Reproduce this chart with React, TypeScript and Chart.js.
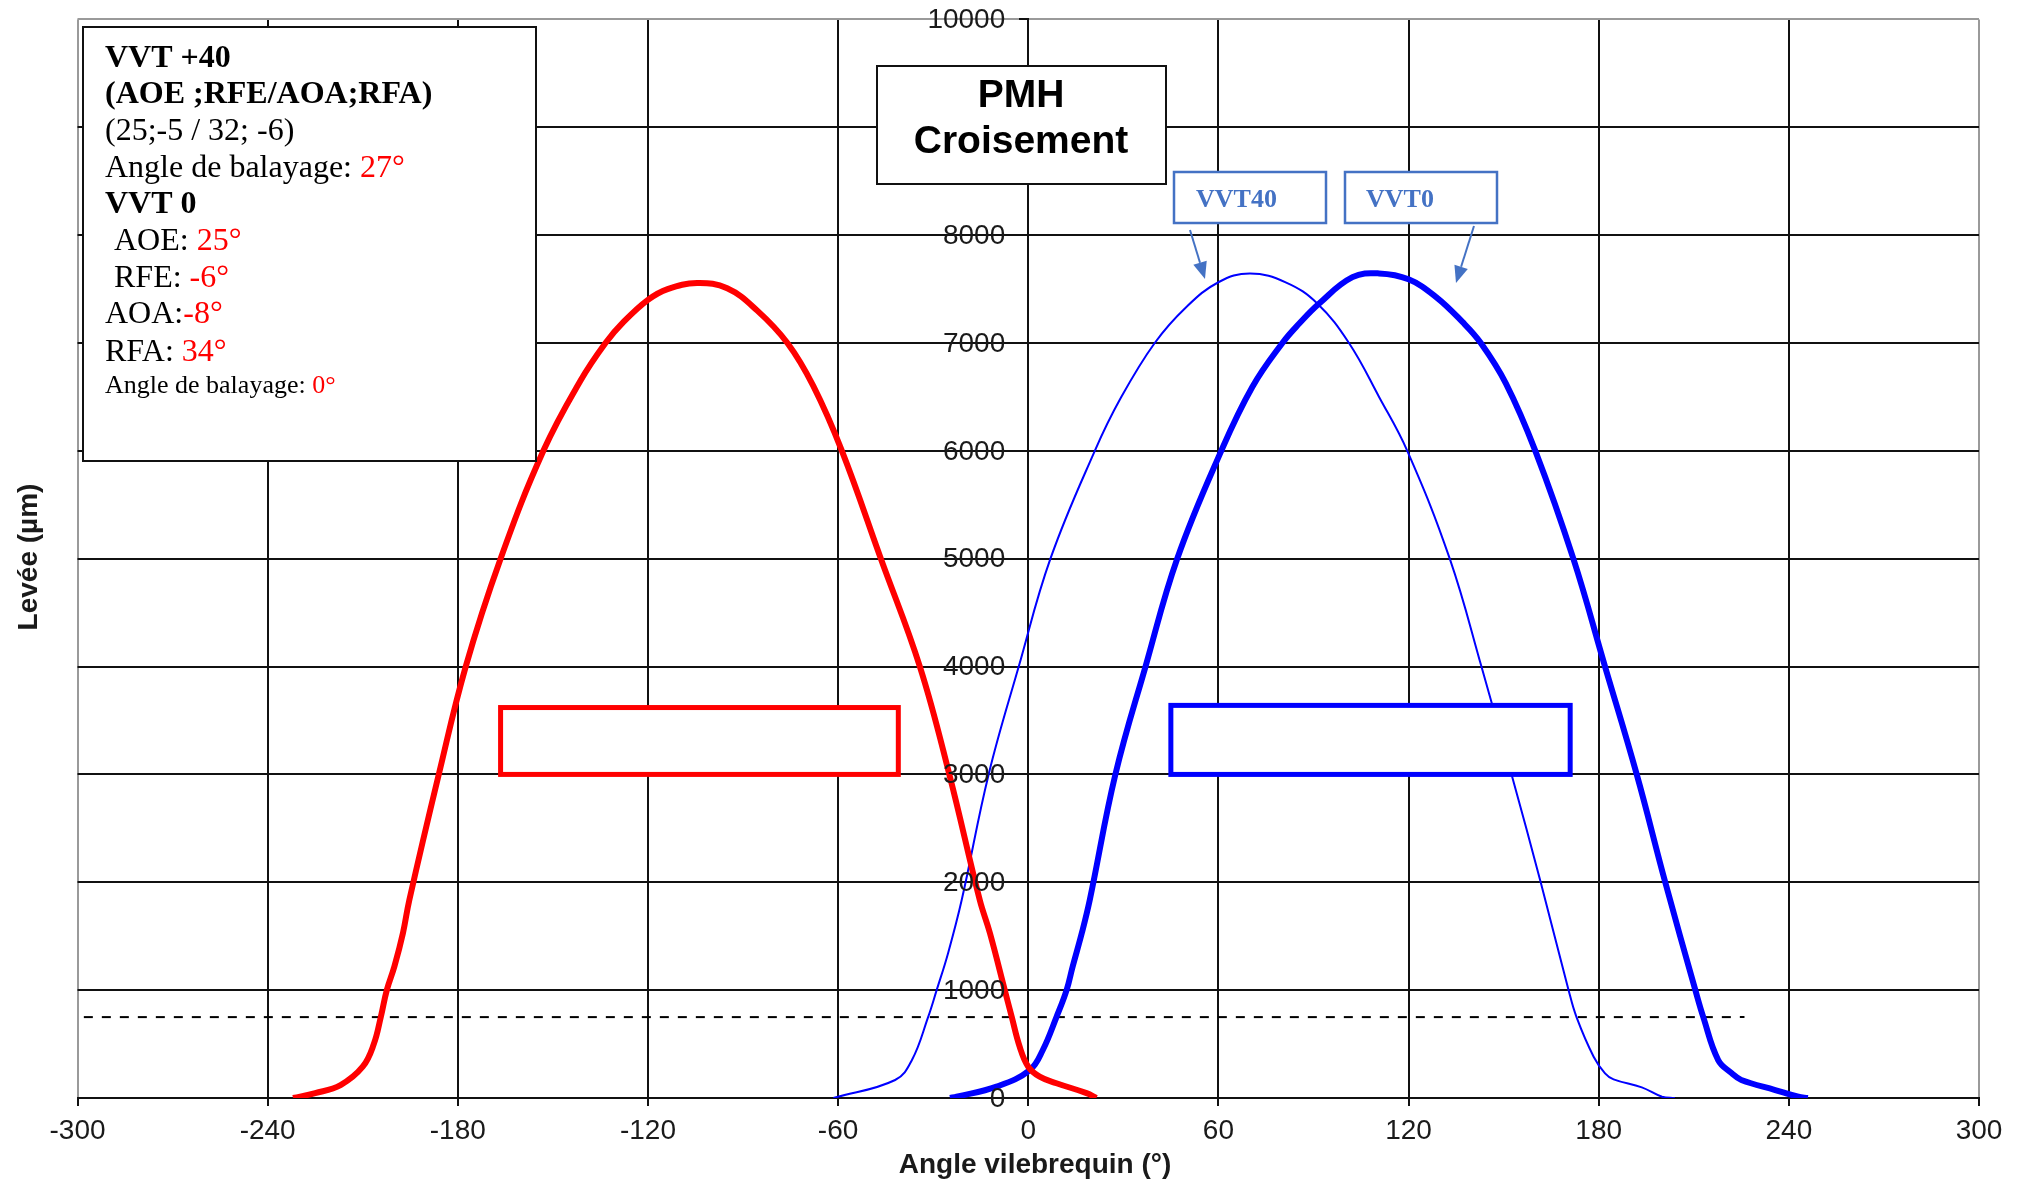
import { useEffect, useRef } from "react";
import { Chart, registerables } from "chart.js";

Chart.register(...registerables);

// ---------- data ----------
const xTickValues = [-300, -240, -180, -120, -60, 0, 60, 120, 180, 240, 300];
const yTickValues = [0, 1000, 2000, 3000, 4000, 5000, 6000, 7000, 8000, 9000, 10000];

// Exhaust (red)
const exhaustAngles = [-232, -225, -217, -210, -206.5, -204.3, -202.4, -200, -197.3, -195.3, -186, -177.5, -166.5, -153, -141.3, -133.4, -127.7, -120, -113.8, -104.5, -95, -85.5, -76, -67.8, -58.8, -46.5, -34.2, -24.9, -15.3, -12.1, -7.4, -5.2, -2.7, 0, 3.6, 8.9, 18.4, 21.5];
const exhaustLift = [0, 45, 120, 290, 500, 750, 1000, 1220, 1530, 1835, 3000, 4000, 5000, 6000, 6650, 7000, 7195, 7400, 7500, 7555, 7507, 7300, 7000, 6600, 6000, 5000, 4000, 3000, 1835, 1530, 1000, 750, 475, 290, 198, 137, 45, 0];

// Intake VVT 0 (thick blue)
const intakeVvt0Angles = [-24.7, -22.6, -10, 0.5, 4.6, 8.9, 12.1, 14, 16.9, 19.4, 27.5, 37, 47, 60.9, 70.7, 80.2, 85.5, 91.8, 102.3, 110.7, 120, 128.7, 137, 142.8, 150.7, 160, 172, 182, 192, 201, 210.5, 213, 217.7, 222, 225, 235.7, 243, 246];
const intakeVvt0Lift = [0, 12, 105, 259, 445, 750, 1000, 1217, 1529, 1835, 3000, 4000, 5000, 6000, 6592, 7000, 7180, 7366, 7610, 7645, 7590, 7426, 7195, 7000, 6626, 6000, 5000, 4000, 3000, 2000, 1000, 750, 352, 229, 167, 74, 12, 0];

// Intake VVT 40 (thin blue)
const intakeVvt40Angles = [-61.5, -42, -36.7, -31.6, -28.9, -25.3, -21, -12.5, -3, 7, 21, 29, 39.9, 49.9, 60, 70, 81.4, 91.2, 101.2, 110.7, 119.6, 133, 143, 152.5, 161.7, 170.5, 173, 178.4, 182, 184.7, 193.6, 200, 204];
const intakeVvt40Lift = [0, 167, 352, 750, 1000, 1343, 1835, 3000, 4000, 5000, 6000, 6480, 7000, 7334, 7563, 7645, 7560, 7366, 7000, 6500, 6000, 5000, 4000, 3000, 2000, 1000, 750, 383, 229, 173, 99, 12, 0];

// Dashed threshold
const thresholdAngles = [-298, 226];
const thresholdLift = [750, 750];

// Window rectangles (angle range / lift range)
const exhaustWindowAngles = [-166.5, -41];
const exhaustWindowLift = [3000, 3620];
const intakeWindowAngles = [45, 171];
const intakeWindowLift = [3000, 3640];

const toPoints = (xs: number[], ys: number[]) => xs.map((x, i) => ({ x, y: ys[i] }));

// ---------- annotation text ----------
type Part = { t: string; red?: boolean; bold?: boolean };
type Line = { x: number; y: number; size: number; parts: Part[] };
const infoLines: Line[] = [
  { x: 105, y: 67, size: 32, parts: [{ t: "VVT +40", bold: true }] },
  { x: 105, y: 103, size: 32, parts: [{ t: "(AOE ;RFE/AOA;RFA)", bold: true }] },
  { x: 105, y: 140, size: 32, parts: [{ t: "(25;-5 / 32; -6)" }] },
  { x: 105, y: 177, size: 32, parts: [{ t: "Angle de balayage: " }, { t: "27°", red: true }] },
  { x: 105, y: 213, size: 32, parts: [{ t: "VVT 0", bold: true }] },
  { x: 114, y: 250, size: 32, parts: [{ t: "AOE: " }, { t: "25°", red: true }] },
  { x: 114, y: 287, size: 32, parts: [{ t: "RFE: " }, { t: "-6°", red: true }] },
  { x: 105, y: 323, size: 32, parts: [{ t: "AOA:" }, { t: "-8°", red: true }] },
  { x: 105, y: 361, size: 32, parts: [{ t: "RFA: " }, { t: "34°", red: true }] },
  { x: 105, y: 393, size: 26, parts: [{ t: "Angle de balayage: " }, { t: "0°", red: true }] },
];

const ACCENT = "#4472C4";

function drawArrow(ctx: CanvasRenderingContext2D, x1: number, y1: number, x2: number, y2: number) {
  const ang = Math.atan2(y2 - y1, x2 - x1);
  const hl = 17, hw = 7;
  const bx = x2 - hl * Math.cos(ang), by = y2 - hl * Math.sin(ang);
  ctx.save();
  ctx.strokeStyle = ACCENT;
  ctx.fillStyle = ACCENT;
  ctx.lineWidth = 2;
  ctx.beginPath();
  ctx.moveTo(x1, y1);
  ctx.lineTo(bx, by);
  ctx.stroke();
  ctx.beginPath();
  ctx.moveTo(x2, y2);
  ctx.lineTo(bx + hw * Math.sin(ang), by - hw * Math.cos(ang));
  ctx.lineTo(bx - hw * Math.sin(ang), by + hw * Math.cos(ang));
  ctx.closePath();
  ctx.fill();
  ctx.restore();
}

const overlayPlugin = {
  id: "overlay",
  afterDatasetsDraw(chart: any) {
    const { ctx, scales } = chart;
    const xs = scales.x, ys = scales.y;

    // y tick labels, right-aligned just left of the x = 0 axis
    ctx.save();
    ctx.fillStyle = "#1a1a1a";
    ctx.font = "28px 'Liberation Sans', Arial, sans-serif";
    ctx.textAlign = "right";
    ctx.textBaseline = "middle";
    const ax = xs.getPixelForValue(0);
    for (const v of yTickValues) {
      ctx.fillText(String(v), ax - 23, ys.getPixelForValue(v) + 1);
    }
    ctx.restore();

    const rects = [
      { a: exhaustWindowAngles, l: exhaustWindowLift, c: "#FF0000" },
      { a: intakeWindowAngles, l: intakeWindowLift, c: "#0000FF" },
    ];
    for (const r of rects) {
      const left = xs.getPixelForValue(r.a[0]);
      const right = xs.getPixelForValue(r.a[1]);
      const top = ys.getPixelForValue(r.l[1]);
      const bottom = ys.getPixelForValue(r.l[0]);
      ctx.save();
      ctx.fillStyle = "#fff";
      ctx.fillRect(left, top, right - left, bottom - top);
      ctx.strokeStyle = r.c;
      ctx.lineWidth = 5;
      ctx.strokeRect(left, top, right - left, bottom - top);
      ctx.restore();
    }
  },
  afterDraw(chart: any) {
    const ctx: CanvasRenderingContext2D = chart.ctx;
    ctx.save();
    // axis titles
    ctx.fillStyle = "#1a1a1a";
    ctx.font = "bold 28px 'Liberation Sans', Arial, sans-serif";
    ctx.textAlign = "center";
    ctx.textBaseline = "middle";
    ctx.fillText("Angle vilebrequin (°)", 1035, 1165);
    ctx.save();
    ctx.translate(29, 557);
    ctx.rotate(-Math.PI / 2);
    ctx.fillText("Levée (µm)", 0, 0);
    ctx.restore();

    // info box
    ctx.fillStyle = "#fff";
    ctx.fillRect(83, 27, 453, 434);
    ctx.strokeStyle = "#111";
    ctx.lineWidth = 2;
    ctx.strokeRect(83, 27, 453, 434);
    ctx.textAlign = "left";
    ctx.textBaseline = "alphabetic";
    for (const line of infoLines) {
      let cx = line.x;
      for (const p of line.parts) {
        ctx.font = `${p.bold ? "bold " : ""}${line.size}px 'Liberation Serif', 'Times New Roman', serif`;
        ctx.fillStyle = p.red ? "#FF0000" : "#000";
        ctx.fillText(p.t, cx, line.y);
        cx += ctx.measureText(p.t).width;
      }
    }

    // PMH box
    ctx.fillStyle = "#fff";
    ctx.fillRect(877, 66, 289, 118);
    ctx.strokeStyle = "#111";
    ctx.lineWidth = 2;
    ctx.strokeRect(877, 66, 289, 118);
    ctx.fillStyle = "#000";
    ctx.textAlign = "center";
    ctx.font = "bold 39px 'Liberation Sans', Arial, sans-serif";
    ctx.fillText("PMH", 1021, 107);
    ctx.fillText("Croisement", 1021, 153);

    // VVT labels
    const labels = [
      { t: "VVT40", x: 1174, tx: 1196 },
      { t: "VVT0", x: 1345, tx: 1366 },
    ];
    for (const l of labels) {
      ctx.fillStyle = "#fff";
      ctx.fillRect(l.x, 172, 152, 51);
      ctx.strokeStyle = ACCENT;
      ctx.lineWidth = 2.5;
      ctx.strokeRect(l.x, 172, 152, 51);
      ctx.fillStyle = ACCENT;
      ctx.textAlign = "left";
      ctx.font = "bold 26px 'Liberation Serif', 'Times New Roman', serif";
      ctx.fillText(l.t, l.tx, 207);
    }
    drawArrow(ctx, 1190, 230, 1205, 279);
    drawArrow(ctx, 1474, 226, 1456, 283);
    ctx.restore();
  },
};

export default function App() {
  const canvasRef = useRef<HTMLCanvasElement | null>(null);

  useEffect(() => {
    if (!canvasRef.current) return;
    Chart.defaults.font.family = "'Liberation Sans', Arial, sans-serif";
    const chart = new Chart(canvasRef.current, {
      type: "line",
      data: {
        datasets: [
          {
            label: "Échappement",
            data: toPoints(exhaustAngles, exhaustLift),
            borderColor: "#FF0000",
            borderWidth: 6,
            pointRadius: 0,
            tension: 0.4,
            fill: false,
          },
          {
            label: "VVT0",
            data: toPoints(intakeVvt0Angles, intakeVvt0Lift),
            borderColor: "#0000FF",
            borderWidth: 6,
            pointRadius: 0,
            tension: 0.4,
            fill: false,
          },
          {
            label: "VVT40",
            data: toPoints(intakeVvt40Angles, intakeVvt40Lift),
            borderColor: "#0000FF",
            borderWidth: 2,
            pointRadius: 0,
            tension: 0.4,
            fill: false,
          },
          {
            label: "Seuil",
            data: toPoints(thresholdAngles, thresholdLift),
            borderColor: "#000",
            borderWidth: 2,
            borderDash: [9, 9],
            pointRadius: 0,
            fill: false,
          },
        ],
      },
      options: {
        responsive: false,
        animation: false,
        devicePixelRatio: 1,
        layout: { padding: { left: 77.5, right: 47, top: 19.4, bottom: 0 } },
        plugins: {
          legend: { display: false },
          tooltip: { enabled: false },
          title: { display: false },
        },
        scales: {
          x: {
            type: "linear",
            position: "bottom",
            min: -300,
            max: 300,
            afterBuildTicks: (scale: any) => {
              scale.ticks = xTickValues.map((v) => ({ value: v }));
            },
            afterFit: (scale: any) => {
              scale.height = 84;
            },
            ticks: {
              color: "#1a1a1a",
              font: { size: 28 },
              padding: 8,
              maxRotation: 0,
              autoSkip: false,
              callback: (v: any) => String(v),
            },
            grid: {
              color: (c: any) => (c.tick && Math.abs(c.tick.value) === 300 ? "#9a9a9a" : "#111"),
              lineWidth: 2,
              tickLength: 8,
              tickColor: "#111",
            },
            border: { display: true, color: "#111", width: 2 },
          },
          y: {
            type: "linear",
            position: { x: 0 } as any,
            min: 0,
            max: 10000,
            afterBuildTicks: (scale: any) => {
              scale.ticks = yTickValues.map((v) => ({ value: v }));
            },
            afterFit: (scale: any) => {
              scale.paddingTop = 0;
              scale.paddingBottom = 0;
            },
            ticks: { display: false },
            grid: {
              color: (c: any) => (c.tick && c.tick.value === 10000 ? "#9a9a9a" : "#111"),
              lineWidth: 2,
              tickLength: 8,
              tickColor: "#111",
            },
            border: { display: true, color: "#111", width: 2 },
          },
        },
      },
      plugins: [overlayPlugin],
    } as any);
    return () => chart.destroy();
  }, []);

  return (
    <div style={{ position: "absolute", left: 0, top: 0, width: 2026, height: 1182, background: "#fff" }}>
      <canvas ref={canvasRef} width={2026} height={1182} style={{ display: "block", width: 2026, height: 1182 }} />
    </div>
  );
}
